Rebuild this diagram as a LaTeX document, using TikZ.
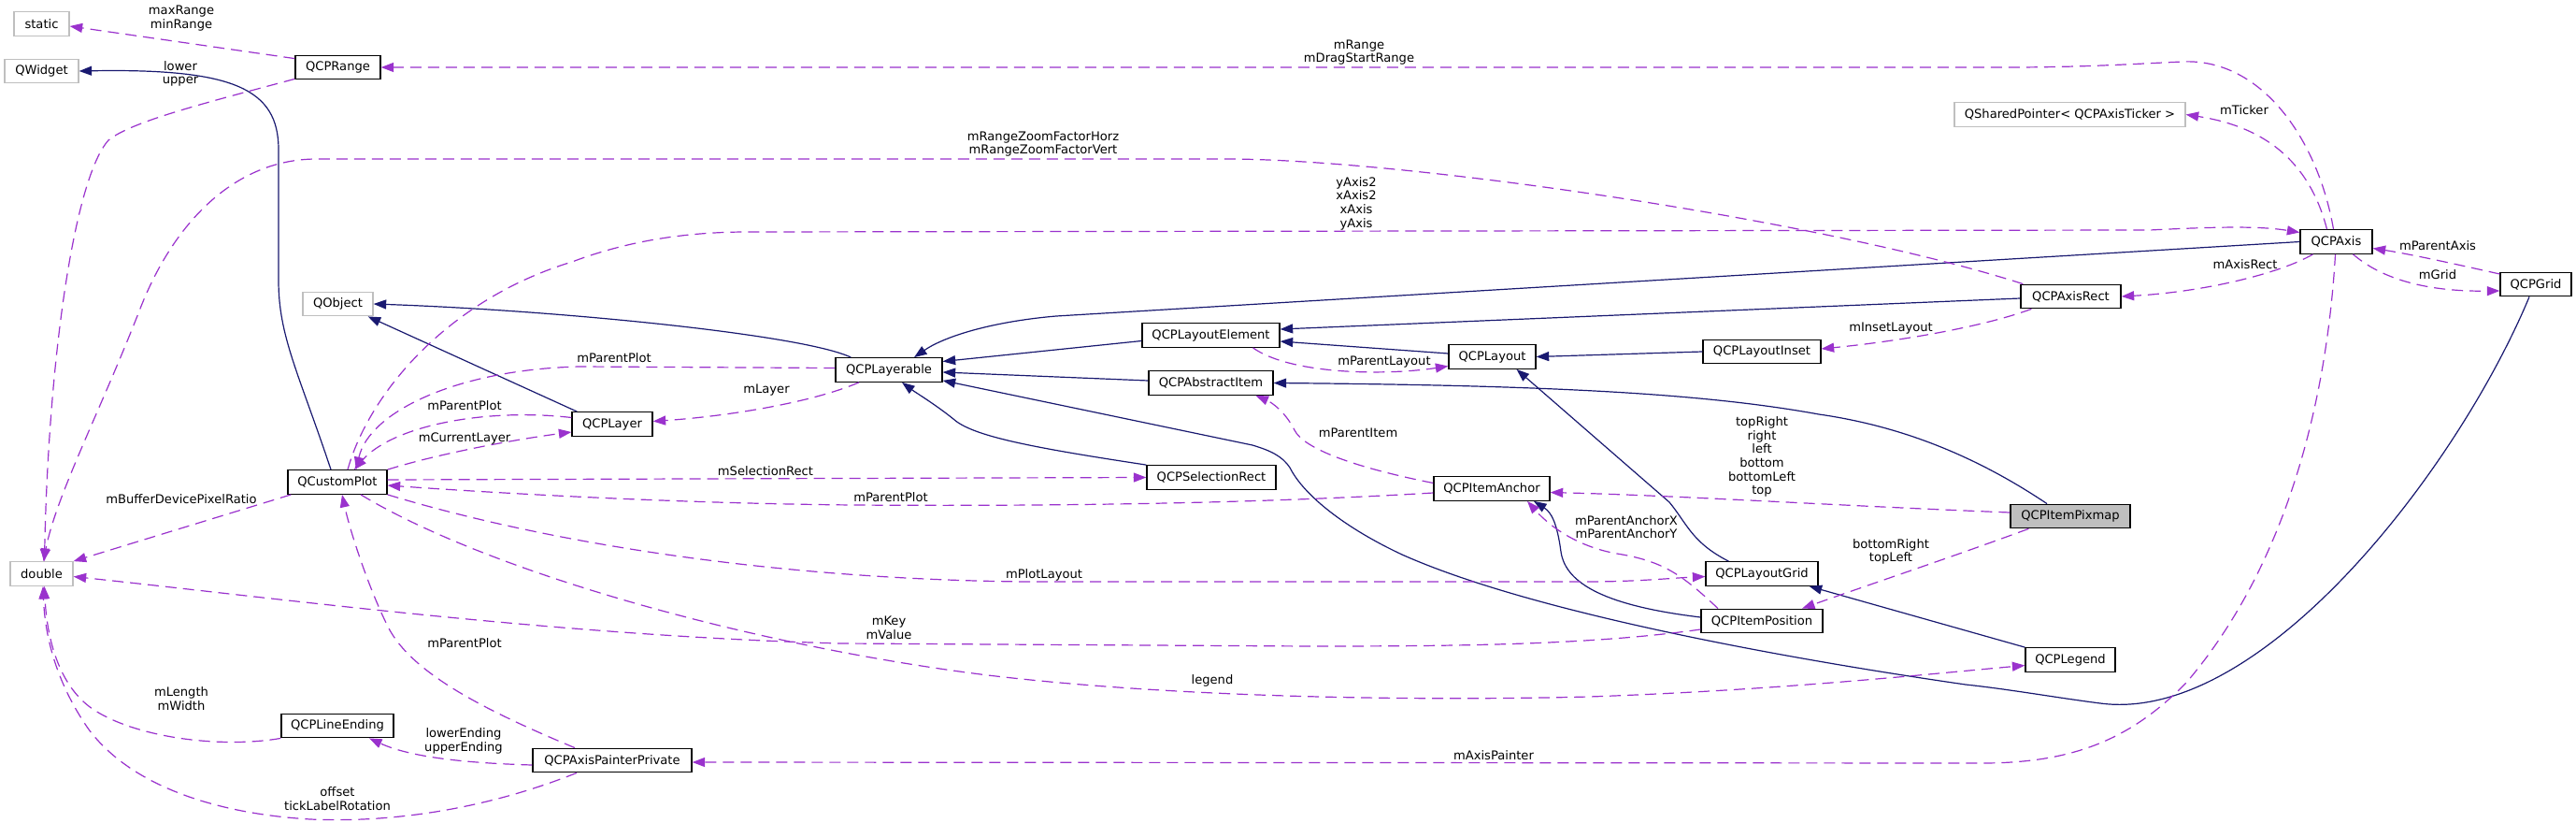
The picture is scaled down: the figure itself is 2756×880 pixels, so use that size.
\documentclass[tikz,border=0pt]{standalone}
\usepackage{fontspec}
\setmainfont{DejaVu Sans}
\usetikzlibrary{arrows.meta}
\definecolor{inhc}{HTML}{191970}
\definecolor{usec}{HTML}{9A32CD}
\definecolor{greyb}{HTML}{BFBFBF}
\newcommand\nfont{\fontsize{13.1}{14.6}\selectfont}
\tikzset{
  cls/.style={draw=black, line width=1.3pt, fill=white, minimum height=25.5pt, inner sep=0pt, font=\nfont},
  ext/.style={cls, draw=greyb},
  lbl/.style={font=\nfont, align=center, inner sep=0pt},
  inh/.style={draw=inhc, line width=1.2pt, -{Triangle[length=13.5pt,width=10pt]}},
  use/.style={draw=usec, line width=1.2pt, dash pattern=on 12pt off 7pt, -{Triangle[length=13.5pt,width=10pt]}}
}
\begin{document}
\begin{tikzpicture}[x=1pt,y=-1pt]
\useasboundingbox[fill=white] (0,0) rectangle (2756,880);
% nodes
\node[ext, minimum width=59pt] (static) at (44.5,25.5) {static};
\node[ext, minimum width=79pt] (QWidget) at (44.5,76) {QWidget};
\node[cls, minimum width=91pt] (QCPRange) at (361.5,72) {QCPRange};
\node[ext, minimum width=75pt] (QObject) at (361.5,325) {QObject};
\node[cls, minimum width=86pt] (QCPLayer) at (655,453.5) {QCPLayer};
\node[cls, minimum width=106pt] (QCustomPlot) at (361,515.5) {QCustomPlot};
\node[ext, minimum width=67pt] (double) at (44.5,613.5) {double};
\node[cls, minimum width=120pt] (QCPLineEnding) at (361,776) {QCPLineEnding};
\node[cls, minimum width=170pt] (QCPAxisPainterPrivate) at (655,813) {QCPAxisPainterPrivate};
\node[cls, minimum width=114pt] (QCPLayerable) at (951,395.5) {QCPLayerable};
\node[cls, minimum width=147pt] (QCPLayoutElement) at (1295.5,358.5) {QCPLayoutElement};
\node[cls, minimum width=133pt] (QCPAbstractItem) at (1295.5,409.5) {QCPAbstractItem};
\node[cls, minimum width=138pt] (QCPSelectionRect) at (1296,510.5) {QCPSelectionRect};
\node[cls, minimum width=93pt] (QCPLayout) at (1596.5,381.5) {QCPLayout};
\node[cls, minimum width=126pt] (QCPLayoutInset) at (1885,376) {QCPLayoutInset};
\node[cls, minimum width=124pt] (QCPItemAnchor) at (1596,522.5) {QCPItemAnchor};
\node[cls, minimum width=128pt, fill=greyb] (QCPItemPixmap) at (2215,552) {QCPItemPixmap};
\node[cls, minimum width=107pt] (QCPAxisRect) at (2215.5,317) {QCPAxisRect};
\node[cls, minimum width=120pt] (QCPLayoutGrid) at (1885,613.5) {QCPLayoutGrid};
\node[cls, minimum width=130pt] (QCPItemPosition) at (1885,664) {QCPItemPosition};
\node[cls, minimum width=96pt] (QCPLegend) at (2215,705.5) {QCPLegend};
\node[ext, minimum width=247pt] (QSP) at (2214.5,122.5) {QSharedPointer< QCPAxisTicker >};
\node[cls, minimum width=77pt] (QCPAxis) at (2499.5,258.5) {QCPAxis};
\node[cls, minimum width=76pt] (QCPGrid) at (2713,304) {QCPGrid};
% inheritance edges
\draw[inh] ([xshift=-7pt]QCustomPlot.north) .. controls (320,400) and (298,360) .. (298,300) -- (298,160) .. controls (298,95) and (250,73) .. (QWidget.east);
\draw[inh] ([xshift=6pt]QCPLayer.north west) -- ([xshift=-6pt]QObject.south east);
\draw[inh] ([xshift=17pt]QCPLayerable.north west) .. controls (860,358) and (600,332) .. (QObject.east);
\draw[inh] ([yshift=-6pt]QCPLayoutElement.west) -- ([yshift=9pt]QCPLayerable.east);
\draw[inh] ([yshift=2.5pt]QCPAbstractItem.west) -- ([yshift=-2.5pt]QCPLayerable.east);
\draw[inh] (QCPSelectionRect.north west) .. controls (1100,478) and (1040,466) .. (1020,448) .. controls (1000,432) and (980,420) .. ([xshift=14pt]QCPLayerable.south);
\draw[inh] (QCPAxis.west) -- (1130,338) .. controls (1060,344) and (1010,360) .. ([xshift=27pt]QCPLayerable.north);
\draw[inh] ([yshift=-2pt]QCPAxisRect.west) -- ([yshift=6.5pt]QCPLayoutElement.east);
\draw[inh] ([yshift=3.5pt]QCPLayout.west) -- ([yshift=-6.5pt]QCPLayoutElement.east);
\draw[inh] ([xshift=-25pt]QCPItemPixmap.north) .. controls (2110,485) and (2030,455) .. (1946,443) .. controls (1820,420) and (1650,412) .. (QCPAbstractItem.east);
\draw[inh] (QCPLayoutInset.west) -- (QCPLayout.east);
\draw[inh] ([xshift=25pt]QCPLayoutGrid.north west) .. controls (1810,580) and (1805,560) .. (1786,537) -- ([xshift=26pt]QCPLayout.south);
\draw[inh] ([yshift=4pt]QCPItemPosition.west) .. controls (1720,648) and (1675,625) .. (1670,590) .. controls (1666,560) and (1660,548) .. ([xshift=45pt]QCPItemAnchor.south);
\draw[inh] (QCPLegend.north west) -- ([xshift=-10pt]QCPLayoutGrid.south east);
\draw[inh] ([xshift=-7pt]QCPGrid.south) .. controls (2630,500) and (2420,775) .. (2247,752) .. controls (2200,746) and (2150,737) .. (2103,732) .. controls (1950,710) and (1650,660) .. (1500,593) .. controls (1440,565) and (1395,530) .. (1380,500) .. controls (1372,488) and (1360,482) .. (1340,476) -- ([yshift=2pt]QCPLayerable.south east);
% usage edges
\draw[use] ([yshift=-4pt]QCPRange.north west) -- ([yshift=-2.5pt]static.east);
\draw[use] ([yshift=1pt]QCPRange.south west) .. controls (220,110) and (140,130) .. (116,150) .. controls (80,190) and (52,380) .. ([xshift=3pt]double.north);
\draw[use] ([xshift=-3pt]QCPAxis.north) .. controls (2480,150) and (2420,62) .. (2335,66) .. controls (2290,68) and (2230,72) .. (2150,72) -- (QCPRange.east);
\draw[use] ([xshift=3pt]QCPAxisRect.north west) .. controls (1950,235) and (1500,170) .. (1312,170) -- (339,170) .. controls (250,170) and (185,240) .. (150,330) .. controls (108,438) and (60,530) .. ([xshift=2pt]double.north);
\draw[use] ([xshift=11pt]QCustomPlot.north) .. controls (395,420) and (480,320) .. (612,280) .. controls (660,262) and (720,248) .. (800,248) -- (2300,246) .. controls (2380,242) and (2420,242) .. ([yshift=10pt]QCPAxis.west);
\draw[use] ([yshift=2pt]QCPLayerable.west) -- (620,392) .. controls (490,395) and (395,440) .. ([xshift=20pt]QCustomPlot.north);
\draw[use] ([yshift=7pt]QCPLayer.west) .. controls (520,436) and (420,455) .. ([xshift=18pt]QCustomPlot.north);
\draw[use] ([xshift=-32pt]QCPLayerable.south) .. controls (870,430) and (780,445) .. ([yshift=3pt]QCPLayer.east);
\draw[use] (QCustomPlot.north east) .. controls (470,485) and (550,470) .. ([yshift=-8.5pt]QCPLayer.west);
\draw[use] ([xshift=4pt]QCustomPlot.south west) -- (double.north east);
\draw[use] ([yshift=2.5pt]QCustomPlot.east) -- (QCPSelectionRect.west);
\draw[use] ([yshift=-4.5pt]QCPItemAnchor.west) .. controls (1400,535) and (1200,542) .. (913,540) .. controls (700,538) and (500,525) .. ([yshift=-3.5pt]QCustomPlot.east);
\draw[use] ([yshift=6pt]QCPItemAnchor.west) .. controls (1450,500) and (1395,480) .. (1385,460) .. controls (1375,440) and (1360,430) .. ([xshift=48pt]QCPAbstractItem.south);
\draw[use] (QCustomPlot.south east) .. controls (600,585) and (850,620) .. (1100,622) -- (1700,622) .. controls (1750,622) and (1790,618) .. ([yshift=-3pt]QCPLayoutGrid.west);
\draw[use] ([yshift=-9pt]QCPItemPosition.west) .. controls (1700,690) and (1550,691) .. (1400,691) -- (900,688) .. controls (600,680) and (300,640) .. ([yshift=-3pt]double.east);
\draw[use] ([xshift=25pt]QCustomPlot.south) .. controls (520,610) and (800,690) .. (1057,722) .. controls (1250,745) and (1500,750) .. (1700,745) .. controls (1900,738) and (2050,722) .. ([yshift=-6pt]QCPLegend.west);
\draw[use] ([xshift=-40pt]QCPAxisPainterPrivate.north) .. controls (520,760) and (440,720) .. (415,670) .. controls (395,630) and (375,570) .. ([xshift=5pt]QCustomPlot.south);
\draw[use] ([yshift=-5pt]QCPAxisPainterPrivate.west) .. controls (500,816) and (440,810) .. ([xshift=34pt]QCPLineEnding.south);
\draw[use] (QCPLineEnding.south west) .. controls (240,800) and (150,790) .. (102,760) .. controls (62,735) and (50,680) .. ([xshift=3pt]double.south);
\draw[use] ([xshift=-38pt]QCPAxisPainterPrivate.south) .. controls (520,865) and (420,880) .. (332,876) .. controls (230,870) and (140,840) .. (95,780) .. controls (60,730) and (48,680) .. ([xshift=1.5pt]double.south);
\draw[use] ([xshift=-1pt]QCPAxis.south) .. controls (2490,420) and (2450,600) .. (2339,730) .. controls (2280,790) and (2220,815) .. (2125,816) -- ([yshift=-2pt]QCPAxisPainterPrivate.east);
\draw[use] ([xshift=-10pt]QCPAxis.north) .. controls (2470,170) and (2420,135) .. (QSP.east);
\draw[use] ([xshift=-25pt]QCPAxis.south) .. controls (2440,292) and (2360,312) .. (QCPAxisRect.east);
\draw[use] ([xshift=18pt]QCPAxis.south) .. controls (2550,300) and (2600,312) .. ([yshift=-7pt]QCPGrid.west);
\draw[use] ([yshift=11pt]QCPGrid.west) .. controls (2630,283) and (2580,272) .. ([yshift=-7pt]QCPAxis.east);
\draw[use] ([xshift=12pt]QCPAxisRect.south west) .. controls (2120,350) and (2030,365) .. ([yshift=3pt]QCPLayoutInset.east);
\draw[use] ([xshift=45pt]QCPLayoutElement.south) .. controls (1380,400) and (1480,402) .. ([yshift=-10pt]QCPLayout.west);
\draw[use] ([yshift=4pt]QCPItemPixmap.west) .. controls (1950,540) and (1800,530) .. ([yshift=-4pt]QCPItemAnchor.east);
\draw[use] ([xshift=20pt]QCPItemPixmap.south west) .. controls (2090,595) and (2000,625) .. ([xshift=43pt]QCPItemPosition.north);
\draw[use] ([xshift=-47pt]QCPItemPosition.north) .. controls (1800,615) and (1780,600) .. (1730,592) .. controls (1690,585) and (1660,565) .. ([xshift=38pt]QCPItemAnchor.south);
% labels
\node[lbl] (lab1) at (194,19.5) {maxRange\\minRange};
\node[lbl] (lab2) at (193,79) {lower\\upper};
\node[lbl] (lab3) at (1454,56) {mRange\\mDragStartRange};
\node[lbl] (lab4) at (1116,154) {mRangeZoomFactorHorz\\mRangeZoomFactorVert};
\node[lbl] (lab5) at (1451,217.5) {yAxis2\\xAxis2\\xAxis\\yAxis};
\node[lbl] (lab6) at (657,383) {mParentPlot};
\node[lbl] (lab7) at (497,434) {mParentPlot};
\node[lbl] (lab8) at (820,417) {mLayer};
\node[lbl] (lab9) at (497,469) {mCurrentLayer};
\node[lbl] (lab10) at (194,534) {mBufferDevicePixelRatio};
\node[lbl] (lab11) at (819,504) {mSelectionRect};
\node[lbl] (lab12) at (953,532) {mParentPlot};
\node[lbl] (lab13) at (1453,463) {mParentItem};
\node[lbl] (lab14) at (1117,615) {mPlotLayout};
\node[lbl] (lab15) at (951,671.5) {mKey\\mValue};
\node[lbl] (lab16) at (1297,728) {legend};
\node[lbl] (lab17) at (497,688) {mParentPlot};
\node[lbl] (lab18) at (496,792.5) {lowerEnding\\upperEnding};
\node[lbl] (lab19) at (194,747) {mLength\\mWidth};
\node[lbl] (lab20) at (361,854) {offset\\tickLabelRotation};
\node[lbl] (lab21) at (1598,808) {mAxisPainter};
\node[lbl] (lab22) at (2401,118) {mTicker};
\node[lbl] (lab23) at (2402,283) {mAxisRect};
\node[lbl] (lab24) at (2608,294) {mGrid};
\node[lbl] (lab25) at (2608,263) {mParentAxis};
\node[lbl] (lab26) at (2023,351) {mInsetLayout};
\node[lbl] (lab27) at (1481,387) {mParentLayout};
\node[lbl] (lab28) at (1885,488.5) {topRight\\right\\left\\bottom\\bottomLeft\\top};
\node[lbl] (lab29) at (2023,590) {bottomRight\\topLeft};
\node[lbl] (lab30) at (1740,563.5) {mParentAnchorX\\mParentAnchorY};
\end{tikzpicture}
\end{document}
